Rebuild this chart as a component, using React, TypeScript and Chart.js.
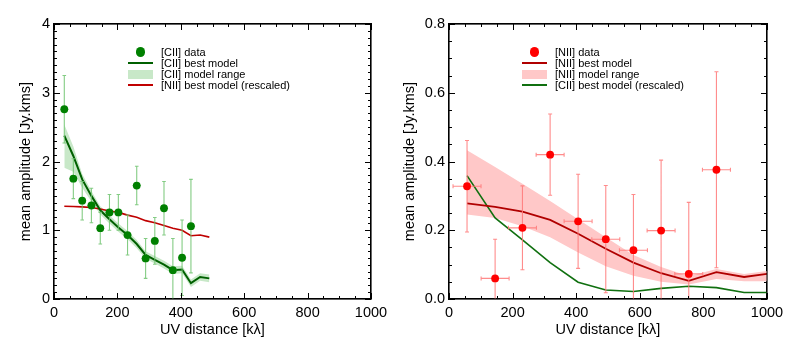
import React, { useEffect, useRef } from "react";
import { Chart, registerables } from "chart.js";
Chart.register(...registerables);

// ---------- [CII] panel ----------
const ciiX = [32.5, 61, 89, 118, 146, 175, 203, 232, 261, 289, 318, 347, 375, 404, 432];
const ciiY = [2.76, 1.75, 1.43, 1.36, 1.03, 1.26, 1.26, 0.93, 1.65, 0.59, 0.845, 1.32, 0.42, 0.6, 1.06];
const ciiYErr = [0.49, 0.29, 0.28, 0.25, 0.23, 0.26, 0.26, 0.29, 0.28, 0.29, 0.34, 0.39, 0.46, 0.55, 0.68];
const ciiXErr = [13, 13, 13, 13, 13, 13, 13, 13, 13, 13, 13, 13, 13, 13, 13];
const ciiModelX = [32.5, 61, 89, 118, 146, 175, 203, 232, 261, 289, 318, 347, 375, 404, 432, 461, 490];
const ciiModel = [2.377, 2.08, 1.74, 1.5, 1.29, 1.16, 1.04, 0.93, 0.8, 0.64, 0.57, 0.5, 0.42, 0.43, 0.23, 0.32, 0.3];
const ciiModelLow = [1.91, 1.85, 1.62, 1.42, 1.23, 1.1, 0.98, 0.87, 0.74, 0.585, 0.515, 0.445, 0.365, 0.375, 0.175, 0.265, 0.245];
const ciiModelHigh = [2.54, 2.22, 1.82, 1.57, 1.35, 1.22, 1.1, 0.99, 0.86, 0.695, 0.625, 0.555, 0.475, 0.485, 0.285, 0.375, 0.355];
const niiRescaledOnCii = [1.35, 1.345, 1.34, 1.33, 1.31, 1.28, 1.26, 1.22, 1.19, 1.14, 1.11, 1.07, 1.03, 1.0, 0.92, 0.93, 0.9];
const ciiYTicks = [0, 1, 2, 3, 4];
const ciiLegend = [
  { type: "dot", color: "#008000", text: "[CII] data" },
  { type: "line", color: "#006000", text: "[CII] best model" },
  { type: "band", color: "#c8e8c8", text: "[CII] model range" },
  { type: "line", color: "#c00000", text: "[NII] best model (rescaled)" },
];

// ---------- [NII] panel ----------
const niiX = [56.7, 145, 231, 318, 406, 493, 580, 667, 754, 841];
const niiY = [0.328, 0.06, 0.207, 0.42, 0.226, 0.174, 0.142, 0.199, 0.073, 0.376];
const niiYErr = [0.133, 0.114, 0.122, 0.118, 0.137, 0.156, 0.162, 0.205, 0.208, 0.285];
const niiXErr = [44, 44, 44, 44, 44, 44, 44, 44, 44, 44];
const niiModelX = [56.7, 145, 231, 318, 406, 493, 580, 667, 754, 841, 928, 1015];
const niiModel = [0.278, 0.268, 0.254, 0.23, 0.19, 0.146, 0.106, 0.075, 0.053, 0.078, 0.064, 0.075];
const niiModelLow = [0.246, 0.236, 0.212, 0.18, 0.135, 0.095, 0.068, 0.05, 0.042, 0.058, 0.052, 0.052];
const niiModelHigh = [0.433, 0.384, 0.335, 0.285, 0.232, 0.18, 0.128, 0.093, 0.066, 0.087, 0.073, 0.083];
const ciiRescaledOnNii = [0.359, 0.236, 0.172, 0.106, 0.049, 0.026, 0.022, 0.031, 0.037, 0.033, 0.019, 0.019];
const niiYTicks = [0, 0.2, 0.4, 0.6, 0.8];
const niiLegend = [
  { type: "dot", color: "#ff0000", text: "[NII] data" },
  { type: "line", color: "#b00000", text: "[NII] best model" },
  { type: "band", color: "#ffc8c8", text: "[NII] model range" },
  { type: "line", color: "#107010", text: "[CII] best model (rescaled)" },
];

const xTicks = [0, 200, 400, 600, 800, 1000];

const FONT = "'Liberation Sans', Arial, Helvetica, sans-serif";

const pts = (xs: number[], ys: number[]) => xs.map((x, i) => ({ x, y: ys[i] }));

const errorBars = {
  id: "errorBars",
  beforeDatasetDraw(chart: any, args: any, opts: any) {
    if (args.index !== 0) return;
    const { ctx, chartArea } = chart;
    const xs = chart.scales.x;
    const ys = chart.scales.y;
    ctx.save();
    ctx.beginPath();
    ctx.rect(chartArea.left, chartArea.top, chartArea.right - chartArea.left, chartArea.bottom - chartArea.top);
    ctx.clip();
    ctx.strokeStyle = opts.color;
    ctx.lineWidth = 1.1;
    ctx.beginPath();
    const c = opts.cap;
    opts.x.forEach((xv: number, i: number) => {
      const yv = opts.y[i];
      const px = xs.getPixelForValue(xv);
      const py = ys.getPixelForValue(yv);
      const y1 = ys.getPixelForValue(yv + opts.yErr[i]);
      const y2 = ys.getPixelForValue(yv - opts.yErr[i]);
      const x1 = xs.getPixelForValue(xv - opts.xErr[i]);
      const x2 = xs.getPixelForValue(xv + opts.xErr[i]);
      ctx.moveTo(px, y1);
      ctx.lineTo(px, y2);
      ctx.moveTo(px - c, y1);
      ctx.lineTo(px + c, y1);
      ctx.moveTo(px - c, y2);
      ctx.lineTo(px + c, y2);
      ctx.moveTo(x1, py);
      ctx.lineTo(x2, py);
      if (opts.xCap) {
        ctx.moveTo(x1, py - c);
        ctx.lineTo(x1, py + c);
        ctx.moveTo(x2, py - c);
        ctx.lineTo(x2, py + c);
      }
    });
    ctx.stroke();
    ctx.restore();
  },
};

// inward minor/major ticks on all four sides, from the chart's own scales
const tickMarks = {
  id: "tickMarks",
  afterDatasetsDraw(chart: any, _a: any, opts: any) {
    const ctx = chart.ctx;
    const area = chart.chartArea;
    const xs = chart.scales.x;
    const ys = chart.scales.y;
    const left = area.left, right = area.right, top = area.top, bottom = area.bottom;
    ctx.save();
    ctx.strokeStyle = "#000";
    ctx.lineWidth = 1;
    ctx.beginPath();
    const nx = Math.round((xs.max - xs.min) / opts.xMinor);
    for (let i = 0; i <= nx; i++) {
      const v = xs.min + i * opts.xMinor;
      const major = Math.abs(v / opts.xMajor - Math.round(v / opts.xMajor)) < 1e-6;
      const len = major ? 6 : 3;
      const p = Math.round(xs.getPixelForValue(v)) + 0.5;
      ctx.moveTo(p, bottom);
      ctx.lineTo(p, bottom - len);
      ctx.moveTo(p, top);
      ctx.lineTo(p, top + len);
    }
    const ny = Math.round((ys.max - ys.min) / opts.yMinor);
    for (let i = 0; i <= ny; i++) {
      const v = ys.min + i * opts.yMinor;
      const major = Math.abs(v / opts.yMajor - Math.round(v / opts.yMajor)) < 1e-6;
      const len = major ? 6 : 3;
      const p = Math.round(ys.getPixelForValue(v)) + 0.5;
      ctx.moveTo(left, p);
      ctx.lineTo(left + len, p);
      ctx.moveTo(right, p);
      ctx.lineTo(right - len, p);
    }
    ctx.stroke();
    ctx.strokeRect(left, top, right - left, bottom - top);
    ctx.restore();
  },
};

function makeConfig(p: any): any {
  const border = { display: true, color: "#000", width: 1.2 };
  return {
    type: "line",
    data: {
      datasets: [
        { data: pts(p.dataX, p.dataY), showLine: false, pointRadius: 3.9, pointBorderWidth: 0, pointBackgroundColor: p.dataColor },
        { data: pts(p.modelX, p.model), borderColor: p.modelColor, borderWidth: p.modelWidth, pointRadius: 0, fill: false },
        { data: pts(p.modelX, p.other), borderColor: p.otherColor, borderWidth: 1.6, pointRadius: 0, fill: false },
        { data: pts(p.modelX, p.high), borderWidth: 0, borderColor: "rgba(0,0,0,0)", backgroundColor: p.bandColor, pointRadius: 0, fill: "+1" },
        { data: pts(p.modelX, p.low), borderWidth: 0, borderColor: "rgba(0,0,0,0)", pointRadius: 0, fill: false },
      ],
    },
    options: {
      responsive: false,
      animation: false,
      events: [],
      layout: { padding: { left: 0, right: p.padRight, top: 24, bottom: 0 } },
      scales: {
        x: {
          type: "linear", position: "bottom", min: 0, max: 1000,
          afterBuildTicks: (s: any) => { s.ticks = xTicks.map((v) => ({ value: v })); },
          afterFit: (s: any) => { s.height = 51; },
          grid: { display: false, drawTicks: false, tickLength: 0 },
          border,
          ticks: { color: "#000", font: { family: FONT, size: 14.5 }, padding: 5, maxRotation: 0, autoSkip: false, callback: (v: number) => String(v) },
          title: { display: true, text: "UV distance [kλ]", color: "#000", font: { family: FONT, size: 14.5 }, padding: { top: 0, bottom: 11 } },
        },
        x2: {
          type: "linear", axis: "x", position: "top", min: 0, max: 1000,
          afterFit: (s: any) => { s.height = 0; },
          grid: { display: false, drawTicks: false, tickLength: 0 },
          border,
          ticks: { display: false },
        },
        y: {
          type: "linear", position: "left", min: p.yMin, max: p.yMax,
          afterBuildTicks: (s: any) => { s.ticks = p.yTicks.map((v: number) => ({ value: v })); },
          afterFit: (s: any) => { s.width = p.yWidth; },
          grid: { display: false, drawTicks: false, tickLength: 0 },
          border,
          ticks: { color: "#000", font: { family: FONT, size: 14.5 }, padding: 4, autoSkip: false, callback: (v: number) => v.toFixed(p.yDecimals) },
          title: { display: true, text: "mean amplitude [Jy.kms]", color: "#000", font: { family: FONT, size: 14.5 }, padding: { top: p.yTitlePad, bottom: 0 } },
        },
        y2: {
          type: "linear", axis: "y", position: "right", min: p.yMin, max: p.yMax,
          afterFit: (s: any) => { s.width = 0; },
          grid: { display: false, drawTicks: false, tickLength: 0 },
          border,
          ticks: { display: false },
        },
      },
      plugins: {
        legend: { display: false },
        tooltip: { enabled: false },
        errorBars: { x: p.dataX, y: p.dataY, yErr: p.yErr, xErr: p.xErr, color: p.errColor, cap: p.cap, xCap: p.xCap },
        tickMarks: { xMajor: 200, xMinor: 50, yMajor: p.yMajor, yMinor: p.yMinor },
      },
    },
    plugins: [errorBars, tickMarks],
  };
}

function Legend({ items, left }: { items: any[]; left: number }) {
  return (
    <>
      {items.map((it, i) => {
        const y = 52 + i * 11;
        let sym: any;
        if (it.type === "dot") {
          sym = <div style={{ position: "absolute", left: left + 12.5 - 4.7, top: y - 4.7, width: 9.4, height: 9.4, borderRadius: "50%", background: it.color }} />;
        } else if (it.type === "line") {
          sym = <div style={{ position: "absolute", left, top: y - 1.25, width: 25, height: 2.5, background: it.color }} />;
        } else {
          sym = <div style={{ position: "absolute", left, top: y - 4.5, width: 25, height: 9, background: it.color }} />;
        }
        return (
          <React.Fragment key={i}>
            {sym}
            <span style={{ position: "absolute", left: left + 33, top: y - 6.5, font: `11px ${FONT}`, lineHeight: "13px", whiteSpace: "nowrap", color: "#000" }}>{it.text}</span>
          </React.Fragment>
        );
      })}
    </>
  );
}

export default function App() {
  const leftRef = useRef<HTMLCanvasElement>(null);
  const rightRef = useRef<HTMLCanvasElement>(null);
  useEffect(() => {
    const left = new Chart(leftRef.current as HTMLCanvasElement, makeConfig({
      dataX: ciiX, dataY: ciiY, yErr: ciiYErr, xErr: ciiXErr, modelX: ciiModelX, model: ciiModel, other: niiRescaledOnCii,
      high: ciiModelHigh, low: ciiModelLow, dataColor: "#008000", modelColor: "#006000", modelWidth: 2, otherColor: "#c00000",
      bandColor: "#c8e8c8", errColor: "rgba(110,195,110,0.85)", cap: 1.8, xCap: false, yMin: 0, yMax: 4, yTicks: ciiYTicks,
      yDecimals: 0, yMajor: 1, yMinor: 0.1, yWidth: 54, yTitlePad: 17.5, padRight: 23,
    }));
    const right = new Chart(rightRef.current as HTMLCanvasElement, makeConfig({
      dataX: niiX, dataY: niiY, yErr: niiYErr, xErr: niiXErr, modelX: niiModelX, model: niiModel, other: ciiRescaledOnNii,
      high: niiModelHigh, low: niiModelLow, dataColor: "#ff0000", modelColor: "#b00000", modelWidth: 1.8, otherColor: "#107010",
      bandColor: "#ffc8c8", errColor: "rgba(255,120,120,0.85)", cap: 2, xCap: true, yMin: 0, yMax: 0.8, yTicks: niiYTicks,
      yDecimals: 1, yMajor: 0.2, yMinor: 0.05, yWidth: 55, yTitlePad: 7, padRight: 22,
    }));
    return () => { left.destroy(); right.destroy(); };
  }, []);
  return (
    <div style={{ position: "absolute", left: 0, top: 0, width: 789, height: 350, background: "#fff" }}>
      <canvas ref={leftRef} width={394} height={350} style={{ position: "absolute", left: 0, top: 0 }} />
      <canvas ref={rightRef} width={395} height={350} style={{ position: "absolute", left: 394, top: 0 }} />
      <Legend items={ciiLegend} left={128} />
      <Legend items={niiLegend} left={522} />
    </div>
  );
}
